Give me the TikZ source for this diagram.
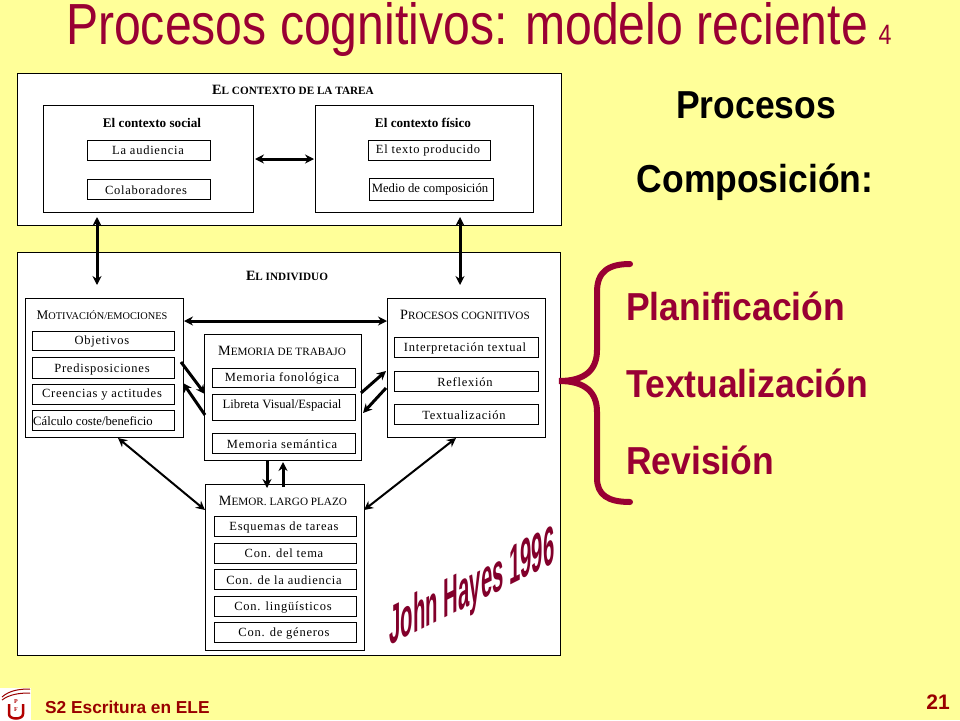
\documentclass[tikz,border=0pt]{standalone}
\usepackage{fontspec}
\setmainfont{Liberation Serif}
\newfontfamily\narrowf[FakeStretch=0.83]{Liberation Sans}
\newfontfamily\narrowb[FakeStretch=0.91]{Liberation Sans Bold}
\newfontfamily\hayesf{Liberation Sans Bold}
\newfontfamily\plainb{Liberation Sans Bold}
\newfontfamily\spaced[LetterSpace=6]{Liberation Serif}
\definecolor{bgy}{HTML}{FFFF99}
\definecolor{wine}{HTML}{990033}
\definecolor{foot}{HTML}{990000}
\newcommand{\capsA}[2]{{\fontsize{13.2}{13}\selectfont #1}{\fontsize{10.3}{11}\selectfont #2}}
\newcommand{\capsB}[2]{{\fontsize{14.2}{14}\selectfont #1}{\fontsize{11.2}{12}\selectfont #2}}
\tikzset{
  x=1pt,y=-1pt,
  outerbox/.style={draw=black,fill=white,line width=0.9pt},
  itembox/.style={draw=black,fill=white,line width=0.8pt},
  itemtext/.style={font=\spaced\fontsize{12.5}{13}\selectfont,inner sep=0pt},
  plaintext/.style={font=\fontsize{12.7}{14}\selectfont,inner sep=0pt},
  boldhead/.style={inner sep=0pt,font=\bfseries\fontsize{13.2}{14}\selectfont},
  biglink/.style={line width=3pt,{Stealth[length=9pt,width=9pt]}-{Stealth[length=9pt,width=9pt]}},
  thinlink/.style={line width=2pt,{Stealth[length=9pt,width=9pt]}-{Stealth[length=9pt,width=9pt]}},
  onelink/.style={line width=3pt,-{Stealth[length=9pt,width=9pt]}},
  sidehead/.style={inner sep=0pt,font=\narrowb\fontsize{39}{40}\selectfont,text=black},
  sideitem/.style={inner sep=0pt,anchor=west,font=\narrowb\fontsize{39}{40}\selectfont,text=wine},
}
\usetikzlibrary{arrows.meta}
\newcommand{\bx}[6][itembox]{%
  \path[#1] (#3,#4) rectangle (#5,#6);
  \coordinate (#2) at ({(#3+#5)/2},{(#4+#6)/2});
}
\begin{document}
\begin{tikzpicture}
\useasboundingbox (0,0) rectangle (960,720);
\fill[bgy] (0,0) rectangle (960,720);

\node[inner sep=0pt,text=wine,font=\narrowf\fontsize{58}{60}\selectfont] (title) at (467,30) {Procesos cognitivos: modelo reciente};
\node[inner sep=0pt,text=wine,font=\narrowf\fontsize{28}{30}\selectfont] (titlenum) at (885,35) {4};

% context
\bx[outerbox]{ctx}{17}{73}{561}{225}
\node[inner sep=0pt,font=\bfseries] (ctxh) at (293,90) {\capsB{E}{L CONTEXTO DE LA TAREA}};
\bx[outerbox]{social}{43}{105}{253}{212}
\node[boldhead] (socialh) at (152,123) {El contexto social};
\bx{aud}{87}{140}{210}{160}
\node[itemtext] (audt) at (148,150) {La audiencia};
\bx{col}{87}{179}{210}{199}
\node[itemtext] (colt) at (146,190) {Colaboradores};
\bx[outerbox]{fisico}{315}{105}{533}{212}
\node[boldhead] (fisicoh) at (423,123) {El contexto físico};
\bx{prod}{368}{140}{490}{160}
\node[itemtext] (prodt) at (428,150) {El texto producido};
\bx{medio}{369}{178}{493}{200}
\node[plaintext] (mediot) at (430,189) {Medio de composición};

% individual
\bx[outerbox]{indiv}{17}{252}{560}{655}
\node[inner sep=0pt,font=\bfseries] (indivh) at (287,276) {\capsB{E}{L INDIVIDUO}};

\bx[outerbox]{motiv}{25}{298}{183}{437}
\node[inner sep=0pt] (motivh) at (102,315) {\capsA{M}{OTIVACIÓN/EMOCIONES}};
\bx{obj}{32}{331}{174}{350}
\node[itemtext] (objt) at (102,341) {Objetivos};
\bx{pred}{32}{357}{174}{378}
\node[itemtext] (predt) at (102,369) {Predisposiciones};
\bx{cree}{32}{384}{174}{404}
\node[itemtext] (creet) at (102,395) {Creencias y actitudes};
\bx{calc}{32}{410}{174}{430}
\node[plaintext] (calct) at (93,421) {Cálculo coste/beneficio};

\bx[outerbox]{trab}{204}{334}{361}{460}
\node[inner sep=0pt] (trabh) at (282,351) {\capsB{M}{EMORIA DE TRABAJO}};
\bx{fono}{212}{368}{355}{387}
\node[itemtext] (fonot) at (282,378) {Memoria fonológica};
\bx{libr}{212}{394}{355}{420}
\node[plaintext] (librt) at (282,405) {Libreta Visual/Espacial};
\bx{sema}{212}{433}{355}{453}
\node[itemtext] (semat) at (282,444) {Memoria semántica};

\bx[outerbox]{proc}{387}{298}{545}{437}
\node[inner sep=0pt] (proch) at (465,315) {\capsB{P}{ROCESOS COGNITIVOS}};
\bx{interp}{394}{337}{538}{357}
\node[itemtext] (interpt) at (465,348) {Interpretación textual};
\bx{refl}{394}{371}{538}{391}
\node[itemtext] (reflt) at (465,382) {Reflexión};
\bx{texz}{394}{404}{538}{424}
\node[itemtext] (texzt) at (464,415) {Textualización};

\bx[outerbox]{lp}{205}{484}{364}{650}
\node[inner sep=0pt] (lph) at (283,501) {\capsB{M}{EMOR. LARGO PLAZO}};
\bx{esq}{214}{516}{356}{536}
\node[itemtext] (esqt) at (284,527) {Esquemas de tareas};
\bx{tema}{214}{543}{356}{563}
\node[itemtext] (temat) at (284,553) {Con. del tema};
\bx{audi}{214}{569}{356}{589}
\node[itemtext] (audit) at (284,580) {Con. de la audiencia};
\bx{ling}{214}{596}{356}{616}
\node[itemtext] (lingt) at (283,607) {Con. lingüísticos};
\bx{gene}{214}{622}{356}{642}
\node[itemtext] (genet) at (284,633) {Con. de géneros};

% connector ends
\coordinate (a1) at (255,159); \coordinate (a2) at (314,159);
\coordinate (b1) at (97,217); \coordinate (b2) at (97,285);
\coordinate (c1) at (460,217); \coordinate (c2) at (460,285);
\coordinate (d1) at (184,321); \coordinate (d2) at (387,321);
\coordinate (e1) at (181,362); \coordinate (e2) at (205,394);
\coordinate (f1) at (205,415); \coordinate (f2) at (183,383);
\coordinate (g1) at (361,393); \coordinate (g2) at (386,371);
\coordinate (h1) at (386,388); \coordinate (h2) at (363,413);
\coordinate (i1) at (267,461); \coordinate (i2) at (267,488);
\coordinate (j1) at (283,487); \coordinate (j2) at (283,462);
\coordinate (k1) at (118,438); \coordinate (k2) at (205,510);
\coordinate (l1) at (364,510); \coordinate (l2) at (456,438);

\draw[biglink] (a1) -- (a2);
\draw[biglink] (b1) -- (b2);
\draw[biglink] (c1) -- (c2);
\draw[biglink] (d1) -- (d2);
\draw[onelink] (e1) -- (e2);
\draw[onelink] (f1) -- (f2);
\draw[onelink] (g1) -- (g2);
\draw[onelink] (h1) -- (h2);
\draw[onelink] (i1) -- (i2);
\draw[onelink] (j1) -- (j2);
\draw[thinlink] (k1) -- (k2);
\draw[thinlink] (l1) -- (l2);

% John Hayes
\node[inner sep=0pt,text=wine!85!black,yslant=0.5,xscale=0.37,transform shape,font=\hayesf\fontsize{55}{56}\selectfont] (hayes) at (472,590) {John Hayes 1996};

% side text
\node[sidehead] (s1) at (756,105) {Procesos};
\node[sidehead] (s2) at (755,182) {Composición:};
\node[sideitem] (p1) at (626,306) {Planificación};
\node[sideitem] (p2) at (626,383) {Textualización};
\node[sideitem] (p3) at (626,460) {Revisión};

\draw[wine,line width=6pt,line cap=round]
  (630,264) .. controls (608,264) and (597,272) .. (597,292)
  -- (597,350) .. controls (597,370) and (585,381) .. (559,381)
  .. controls (585,381) and (597,392) .. (597,412)
  -- (597,478) .. controls (597,495) and (608,502) .. (630,502);

% footer
\fill[white] (0,688) rectangle (31,720);
\draw[red!60!black,line width=1pt] (2,697) .. controls (10,690) and (20,689) .. (30,689);
\draw[red!60!black,line width=1pt] (2,700) .. controls (10,694) and (20,693) .. (30,693);
\draw[red!70!black,line width=2.5pt] (9,704) -- (9,714) .. controls (9,720) and (23,720) .. (23,714) -- (23,704);
\node[inner sep=0pt,text=red!70!black,font=\bfseries\fontsize{6}{6}\selectfont] (lp1) at (16,702) {P};
\node[inner sep=0pt,text=red!70!black,font=\bfseries\fontsize{6}{6}\selectfont] (lp2) at (16,710) {F};
\node[inner sep=0pt,anchor=west,text=foot,font=\plainb\fontsize{17.3}{18}\selectfont] (foot) at (45,707) {S2 Escritura en ELE};
\node[inner sep=0pt,text=foot,font=\plainb\fontsize{21}{22}\selectfont] (num) at (938,702) {21};
\end{tikzpicture}
\end{document}
